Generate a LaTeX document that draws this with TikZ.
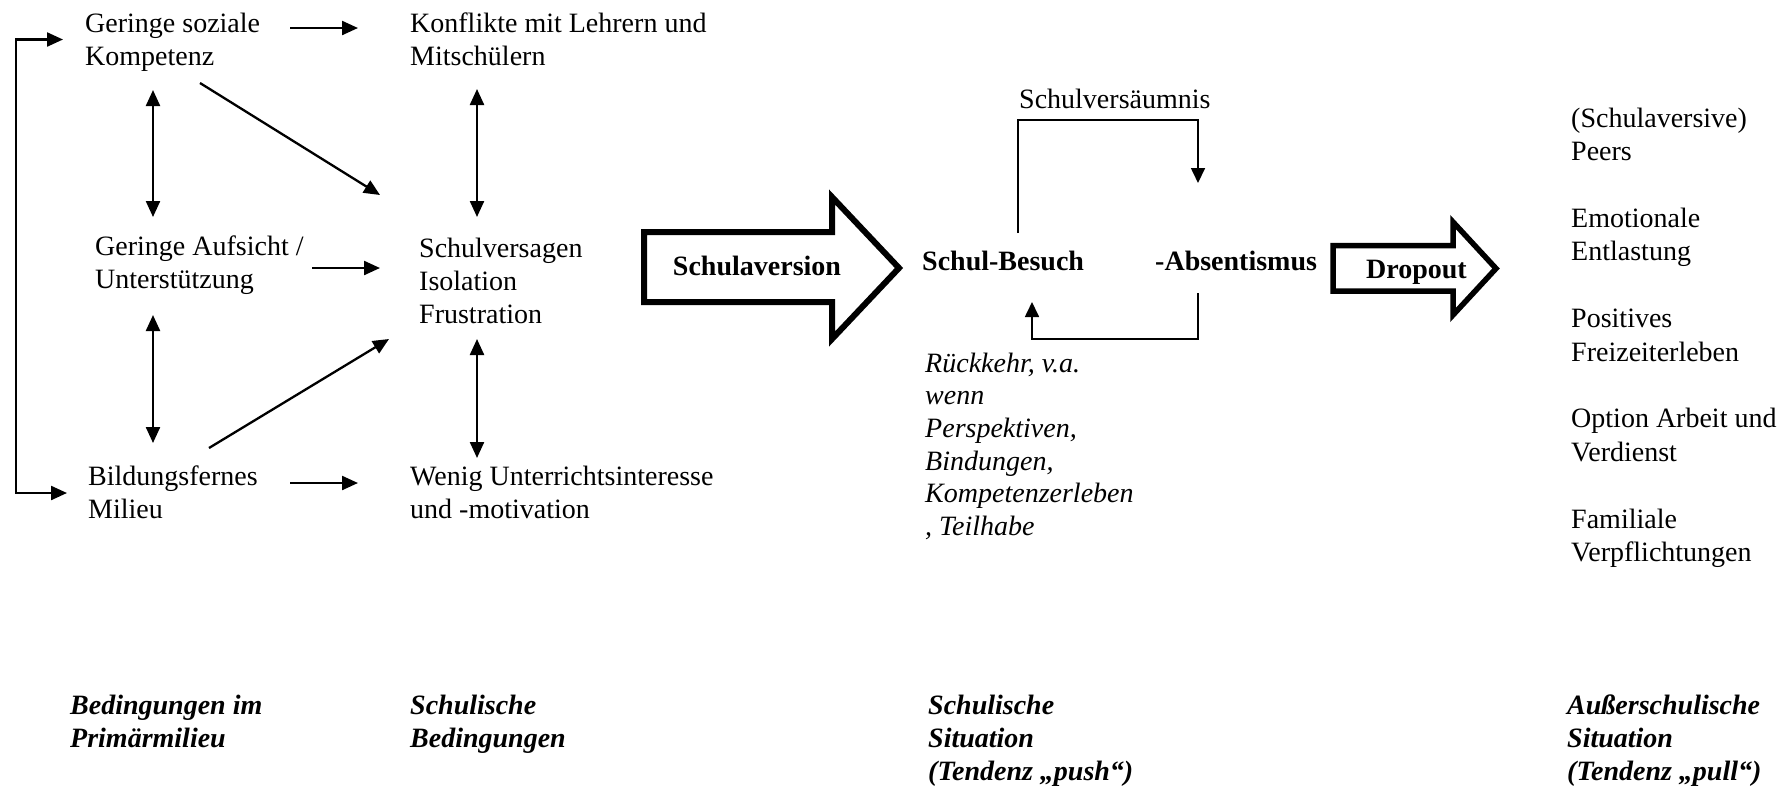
\documentclass[tikz,border=0pt]{standalone}
\usepackage{fontspec}
\setmainfont{Liberation Serif}
\usetikzlibrary{arrows.meta}

\tikzset{
  lbl/.style={inner sep=0pt,anchor=north west,align=left,font=\fontsize{28}{33.3}\selectfont},
  head/.style={inner sep=0pt,font=\bfseries\fontsize{28}{33.3}\selectfont},
  foot/.style={lbl,font=\bfseries\itshape\fontsize{28}{33}\selectfont},
  link/.style={line width=2.3pt,-{Triangle[length=16pt,width=14pt]}},
  twoway/.style={line width=2.3pt,{Triangle[length=16pt,width=14pt]}-{Triangle[length=16pt,width=14pt]}},
  cycarr/.style={line width=1.7pt,-{Triangle[length=15pt,width=14pt]}},
  bigarrow/.style={line width=6pt,line join=miter},
}

\begin{document}
\begin{tikzpicture}[x=1pt,y=-1pt]
\useasboundingbox (0,0) rectangle (1782,788);

% Primaermilieu und schulische Bedingungen
\node[lbl] (gsk) at (85,8.7) {\strut Geringe soziale\\Kompetenz};
\node[lbl] (kon) at (410,8.7) {\strut Konflikte mit Lehrern und\\Mitschülern};
\node[lbl] (gau) at (95,231.7) {\strut Geringe Aufsicht /\\Unterstützung};
\node[lbl] (sv) at (419,233.7) {\strut Schulversagen\\Isolation\\Frustration};
\node[lbl] (bil) at (88,461.7) {\strut Bildungsfernes\\Milieu};
\node[lbl] (wen) at (410,461.7) {\strut Wenig Unterrichtsinteresse\\und -motivation};

\draw[link] ([shift={(205,19.3)}]gsk.north west) -- ([shift={(-52,19.3)}]kon.north west);
\draw[link] ([shift={(217,36.3)}]gau.north west) -- ([shift={(-39,34.3)}]sv.north west);
\draw[link] ([shift={(202,21.3)}]bil.north west) -- ([shift={(-52,21.3)}]wen.north west);
\draw[link] ([shift={(115,74.3)}]gsk.north west) -- ([shift={(-39,-38.7)}]sv.north west);
\draw[link] ([shift={(121,-13.7)}]bil.north west) -- ([shift={(-30,105.3)}]sv.north west);
\draw[twoway] ([shift={(68,81.3)}]gsk.north west) -- ([shift={(58,-14.7)}]gau.north west);
\draw[twoway] ([shift={(58,83.3)}]gau.north west) -- ([shift={(65,-18.7)}]bil.north west);
\draw[twoway] ([shift={(67,80.3)}]kon.north west) -- ([shift={(58,-16.7)}]sv.north west);
\draw[twoway] ([shift={(58,105.3)}]sv.north west) -- ([shift={(67,-3.7)}]wen.north west);
\draw[twoway] ([shift={(-22,30.8)}]gsk.north west) -| ([shift={(-72,31.3)}]bil.north west)
  -- ([shift={(-21,31.3)}]bil.north west);

% Schulaversion
\draw[bigarrow] (644,232) -- (832,232) -- (832,197) -- (899,268) -- (832,339) -- (832,302) -- (644,302) -- cycle;
\node[head,anchor=base] (av) at (757,275) {Schulaversion};

% Besuch / Absentismus
\node[head,anchor=base west] (sb) at (922,270) {Schul-Besuch};
\node[head,anchor=base west] (ab) at (1155,270) {-Absentismus};
\node[lbl,anchor=base west] (sva) at (1019,108) {Schulversäumnis};
\draw[cycarr] ([shift={(96,-37)}]sb.base west) |- ([shift={(43,-150)}]ab.base west)
  -- ([shift={(43,-87)}]ab.base west);
\draw[cycarr] ([shift={(43,23)}]ab.base west) |- ([shift={(110,69)}]sb.base west)
  -- ([shift={(110,32)}]sb.base west);
\node[lbl,font=\itshape\fontsize{28}{32.6}\selectfont] (rk) at (925,349.2)
  {\strut Rückkehr, v.a.\\wenn\\Perspektiven,\\Bindungen,\\Kompetenzerleben\\, Teilhabe};

% Dropout
\draw[bigarrow,line width=5.5pt] (1333,245.5) -- (1453,245.5) -- (1453,222) -- (1496,268.5) -- (1453,315) -- (1453,291) -- (1333,291) -- cycle;
\node[head,anchor=base west] (dr) at (1366,278) {Dropout};

% Pull-Faktoren
\foreach \txt [count=\i] in {{(Schulaversive)\\Peers},{Emotionale\\Entlastung},{Positives\\Freizeiterleben},{Option Arbeit und\\Verdienst},{Familiale\\Verpflichtungen}}
  \node[lbl] (pull\i) at (1571,{103.7+100.25*(\i-1)}) {\strut\txt};

% Spaltenbeschriftung
\node[foot] (fprim) at (70,690.9) {\strut Bedingungen im\\Primärmilieu};
\node[foot] (fschul) at (410,690.9) {\strut Schulische\\Bedingungen};
\node[foot] (fpush) at (928,690.9) {\strut Schulische\\Situation\\(Tendenz „push“)};
\node[foot] (fpull) at (1567,690.9) {\strut Außerschulische\\Situation\\(Tendenz „pull“)};
\end{tikzpicture}
\end{document}
